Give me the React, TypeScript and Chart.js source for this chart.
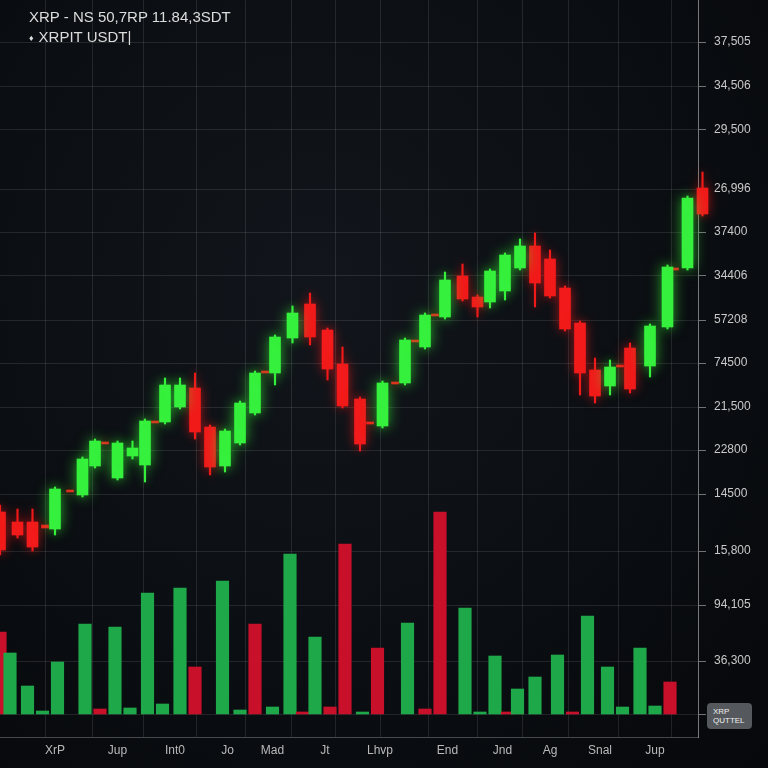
import React, { useEffect, useRef } from 'react';
import { Chart, registerables } from 'chart.js';

Chart.register(...registerables);

// ---- data -------------------------------------------------------------
const headerLine1 = 'XRP - NS 50,7RP 11.84,3SDT';
const headerLine2 = 'XRPIT USDT|';

// time index of each candle
const candleTime = [0, 7, 13, 18, 22, 28, 33, 38, 42, 47, 53, 58, 62, 66, 72, 78, 84, 90, 96, 102, 106, 110, 117, 124, 131, 137, 144, 148, 153, 158, 162, 166, 170, 174, 178, 185, 191, 196, 202, 208, 214, 220, 226, 232, 238, 244, 248, 252, 260, 267, 270, 275, 281];
const candleOpen = [22.5, 21.5, 21.5, 21.2, 20.8, 24.7, 24.2, 27.1, 29.5, 25.9, 28.1, 27.2, 31.6, 31.5, 33.0, 34.9, 31.0, 27.1, 29.4, 32.4, 36.6, 36.4, 39.9, 43.3, 40.7, 37.3, 33.8, 31.5, 31.1, 35.5, 35.4, 39.7, 39.0, 42.3, 42.0, 46.1, 44.0, 43.5, 44.6, 46.9, 49.1, 47.8, 44.9, 41.4, 36.7, 35.1, 37.2, 38.9, 37.1, 41.0, 46.9, 46.9, 54.9];
const candleHigh = [23.2, 22.8, 22.8, 21.2, 25.0, 24.7, 28.0, 29.8, 29.5, 29.6, 29.6, 31.8, 31.6, 35.9, 35.9, 36.4, 31.2, 30.8, 33.6, 36.6, 36.6, 40.2, 43.1, 44.4, 40.9, 39.0, 34.0, 31.5, 35.6, 35.5, 39.9, 39.7, 42.4, 42.3, 46.5, 47.3, 44.2, 46.8, 48.4, 49.8, 50.4, 48.7, 45.1, 41.6, 37.9, 37.7, 37.2, 39.4, 41.3, 47.2, 46.9, 54.1, 56.5];
const candleLow = [18.2, 19.9, 18.6, 20.9, 20.2, 24.5, 24.0, 26.9, 29.3, 25.7, 27.8, 25.5, 31.4, 31.3, 32.8, 29.8, 26.2, 26.5, 29.2, 32.2, 36.4, 35.2, 39.4, 39.2, 35.7, 32.9, 28.6, 31.3, 30.9, 35.3, 35.2, 39.5, 38.8, 42.1, 41.8, 43.6, 42.0, 42.9, 43.7, 46.7, 43.0, 43.9, 40.6, 34.2, 33.4, 34.2, 37.0, 34.4, 36.0, 40.8, 46.7, 46.7, 52.1];
const candleClose = [18.7, 20.2, 19.0, 20.9, 24.8, 24.5, 27.8, 29.6, 29.3, 29.4, 28.9, 31.6, 31.4, 35.2, 35.2, 30.5, 27.0, 30.6, 33.4, 36.4, 36.4, 40.0, 42.4, 40.0, 36.8, 33.1, 29.3, 31.3, 35.4, 35.3, 39.7, 39.5, 42.2, 42.1, 45.7, 43.8, 43.0, 46.6, 48.2, 49.1, 45.4, 44.1, 40.8, 36.4, 34.1, 37.0, 37.0, 34.8, 41.1, 47.0, 46.7, 53.9, 52.3];

const volumeTime = [0, 4, 11, 17, 23, 34, 40, 46, 52, 59, 65, 72, 78, 89, 96, 102, 109, 116, 121, 126, 132, 138, 145, 151, 163, 170, 176, 186, 192, 198, 203, 207, 214, 223, 229, 235, 243, 249, 256, 262, 268];
const volumeValue = [8.2, 6.1, 2.8, 0.3, 5.2, 9.0, 0.5, 8.7, 0.6, 12.1, 1.0, 12.6, 4.7, 13.3, 0.4, 9.0, 0.7, 16.0, 0.2, 7.7, 0.7, 17.0, 0.2, 6.6, 9.1, 0.5, 20.2, 10.6, 0.2, 5.8, 0.2, 2.5, 3.7, 5.9, 0.2, 9.8, 4.7, 0.7, 6.6, 0.8, 3.2];
const volumeUp = [false, true, true, true, true, true, false, true, true, true, true, true, false, true, true, false, true, true, false, true, false, false, true, false, true, false, false, true, true, true, false, true, true, true, false, true, true, true, true, true, false];

const priceTickValues = [69.5, 65.1, 60.7, 54.8, 50.5, 46.1, 41.7, 37.4, 33.0, 28.7, 24.3, 18.6, 13.2, 7.6, 2.3];
const priceTickLabels = ['37,505', '34,506', '29,500', '26,996', '37400', '34406', '57208', '74500', '21,500', '22800', '14500', '15,800', '94,105', '36,300', ''];

const timeGridValues = [8, 28, 46, 69, 88, 108, 125, 143, 161, 182, 200, 218, 237, 258];
const timeTickValues = [22, 47, 70, 91, 109, 130, 152, 179, 201, 220, 240, 262];
const timeTickLabels = ['XrP', 'Jup', 'Int0', 'Jo', 'Mad', 'Jt', 'Lhvp', 'End', 'Jnd', 'Ag', 'Snal', 'Jup'];

const TIME_MIN = 0;
const TIME_MAX = 279.2;
const PRICE_MIN = 0;
const PRICE_MAX = 73.7;
const VOL_MIN = -2.3;
const VOL_MAX = 71.4;

// ---- styles -------------------------------------------------------------
const GREEN = '#35f03c';
const RED = '#f21a1a';
const VOL_GREEN = '#1fa84a';
const VOL_RED = '#c8102a';
const GRID = 'rgba(255,255,255,0.10)';
const FONT = '"Liberation Sans", Arial, sans-serif';

const glowPlugin = {
  id: 'glow',
  beforeDatasetDraw(chart: any, args: any) {
    const ds = chart.data.datasets[args.index];
    if (ds.glow) {
      chart.ctx.save();
      chart.ctx.shadowColor = ds.glow;
      chart.ctx.shadowBlur = ds.glowBlur || 10;
    }
  },
  afterDatasetDraw(chart: any, args: any) {
    const ds = chart.data.datasets[args.index];
    if (ds.glow) chart.ctx.restore();
  },
};

const noPad = (s: any) => {
  s.paddingTop = 0;
  s.paddingBottom = 0;
  s.paddingLeft = 0;
  s.paddingRight = 0;
};

export default function App() {
  const ref = useRef<HTMLCanvasElement | null>(null);

  useEffect(() => {
    if (!ref.current) return;
    const idx = candleTime.map((_, i) => i);
    const isDoji = (i: number) => Math.abs(candleOpen[i] - candleClose[i]) < 0.5;
    const isUp = (i: number) => candleClose[i] > candleOpen[i];
    const body = (sel: number[]) => sel.map((i) => ({ x: candleTime[i], y: [candleOpen[i], candleClose[i]] }));
    const wick = (sel: number[]) => sel.map((i) => ({ x: candleTime[i], y: [candleLow[i], candleHigh[i]] }));
    const upIdx = idx.filter((i) => !isDoji(i) && isUp(i));
    const downIdx = idx.filter((i) => !isDoji(i) && !isUp(i));
    const dojiIdx = idx.filter((i) => isDoji(i));

    const common = { type: 'bar', grouped: false, xAxisID: 'x', yAxisID: 'y', borderWidth: 0, clip: false };

    const chart = new Chart(ref.current, {
      type: 'bar',
      data: {
        datasets: [
          {
            type: 'bar',
            label: 'Volume',
            grouped: false,
            xAxisID: 'x',
            yAxisID: 'yv',
            data: volumeTime.map((t, i) => ({ x: t, y: volumeValue[i] })),
            backgroundColor: (c: any) => (volumeUp[c.dataIndex] ? VOL_GREEN : VOL_RED),
            barThickness: 12.5,
            borderWidth: 0,
            order: 10,
          },
          { ...common, label: 'wick up', data: wick(upIdx), backgroundColor: GREEN, barThickness: 1.5, order: 3, glow: 'rgba(60,255,60,0.6)' },
          { ...common, label: 'wick down', data: wick(downIdx), backgroundColor: RED, barThickness: 1.5, order: 3, glow: 'rgba(255,30,30,0.6)' },
          { ...common, label: 'up', data: body(upIdx), backgroundColor: GREEN, barThickness: 11, order: 1, glow: 'rgba(60,255,60,0.6)', glowBlur: 14 },
          { ...common, label: 'down', data: body(downIdx), backgroundColor: RED, barThickness: 11, order: 1, glow: 'rgba(255,30,30,0.55)', glowBlur: 12 },
          { ...common, label: 'doji', data: body(dojiIdx), backgroundColor: RED, barThickness: 7, minBarLength: 2, order: 2, glow: 'rgba(255,30,30,0.5)' },
        ] as any,
      },
      options: {
        animation: false,
        responsive: false,
        maintainAspectRatio: false,
        events: [],
        layout: { padding: 0 },
        plugins: { legend: { display: false }, tooltip: { enabled: false }, title: { display: false } },
        scales: {
          x: {
            type: 'linear',
            position: 'bottom',
            weight: 0,
            min: TIME_MIN,
            max: TIME_MAX,
            offset: false,
            grid: { display: true, color: GRID, drawTicks: false, lineWidth: 1 },
            border: { display: false },
            ticks: { display: false },
            afterBuildTicks: (s: any) => {
              s.ticks = timeGridValues.map((v) => ({ value: v }));
            },
            afterFit: (s: any) => {
              s.height = 0;
              noPad(s);
            },
          },
          xl: {
            type: 'linear',
            position: 'bottom',
            weight: 1,
            min: TIME_MIN,
            max: TIME_MAX,
            offset: false,
            grid: { display: false, drawTicks: false },
            border: { display: true, color: 'rgba(255,255,255,0.25)', width: 1 },
            ticks: {
              autoSkip: false,
              maxRotation: 0,
              minRotation: 0,
              color: '#b9b9b9',
              padding: 6,
              font: { family: FONT, size: 12 },
              callback: (_v: any, i: number) => timeTickLabels[i],
            },
            afterBuildTicks: (s: any) => {
              s.ticks = timeTickValues.map((v) => ({ value: v }));
            },
            afterFit: (s: any) => {
              s.height = 31;
              noPad(s);
            },
          },
          y: {
            type: 'linear',
            position: 'right',
            min: PRICE_MIN,
            max: PRICE_MAX,
            grid: { display: true, color: GRID, drawTicks: true, tickLength: 8, tickColor: 'rgba(200,200,200,0.55)' },
            border: { display: true, color: 'rgba(210,210,210,0.55)', width: 1 },
            ticks: {
              color: '#c9c9c9',
              padding: 8,
              font: { family: FONT, size: 12 },
              callback: (_v: any, i: number) => priceTickLabels[i],
            },
            afterBuildTicks: (s: any) => {
              s.ticks = priceTickValues.map((v) => ({ value: v }));
            },
            afterFit: (s: any) => {
              s.width = 70;
              noPad(s);
            },
          },
          yv: {
            type: 'linear',
            display: false,
            min: VOL_MIN,
            max: VOL_MAX,
          },
        },
      } as any,
      plugins: [glowPlugin],
    });
    return () => chart.destroy();
  }, []);

  return (
    <div
      style={{
        position: 'absolute',
        left: 0,
        top: 0,
        width: 768,
        height: 768,
        overflow: 'hidden',
        background: 'radial-gradient(ellipse at 42% 38%, #12161c 0%, #0b0e12 55%, #06080b 100%)',
      }}
    >
      <canvas ref={ref} width={768} height={768} style={{ position: 'absolute', left: 0, top: 0, width: 768, height: 768 }} />
      <div
        style={{
          position: 'absolute',
          left: 29,
          top: 7,
          color: '#dcdcdc',
          fontFamily: FONT,
          fontSize: 15,
          lineHeight: '20px',
          whiteSpace: 'nowrap',
        }}
      >
        <div>{headerLine1}</div>
        <div>
          <span style={{ fontSize: 9, marginRight: 5, verticalAlign: 'middle' }}>♦</span>
          {headerLine2}
        </div>
      </div>
      <div
        style={{
          position: 'absolute',
          left: 707,
          top: 703,
          width: 45,
          height: 26,
          borderRadius: 4,
          background: '#55585c',
          color: '#f0f0f0',
          fontFamily: FONT,
          fontSize: 8,
          lineHeight: '9px',
          padding: '4px 0 0 6px',
          boxSizing: 'border-box',
        }}
      >
        <div>XRP</div>
        <div>QUTTEL</div>
      </div>
    </div>
  );
}
